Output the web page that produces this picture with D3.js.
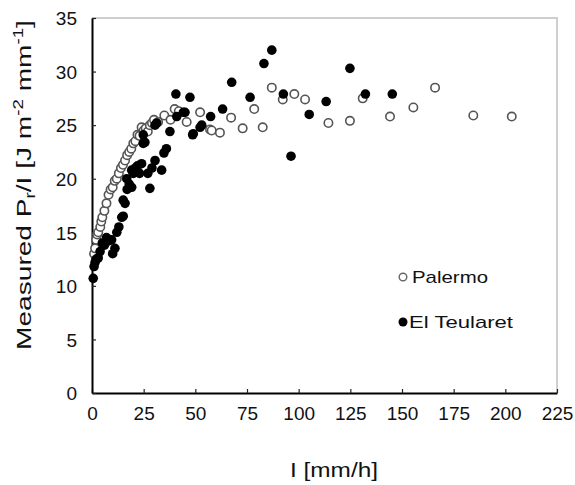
<!DOCTYPE html>
<html><head><meta charset="utf-8">
<script src="https://cdn.jsdelivr.net/npm/d3@7"></script>
<style>body{margin:0;background:#fff}svg{display:block}text{font-family:"Liberation Sans",Arial,sans-serif;fill:#111}</style>
</head><body>
<script>
const xTicks = [0,25,50,75,100,125,150,175,200,225];
const yTicks = [0,5,10,15,20,25,30,35];
const seriesNames = ["Palermo","El Teularet"];
// Palermo (open circles)
const palermoX = [1,1.5,2,2.5,3,4,4.5,5,6,7,8,9,10,11,12,13,14,15,16,17,18,19,20,21,22,23,24,25,26,27,28,29,30,32,35,38,40,42,45.8,52.3,57.1,57.9,61.9,67.3,72.9,78.5,82.6,87,92.3,97.9,103.1,114.4,124.8,131,144.2,155.5,166,184.5,203.1];
const palermoY = [13,13.5,14.3,14.8,15,15.5,16,16.4,17,17.7,18.5,19,19.2,19.8,20,20.5,21,21.3,21.7,22.2,22.5,22.8,23.3,23.5,24.1,24,24.8,24.5,24.7,24.4,25,25.2,25.5,25.3,25.9,25.5,26.5,26.3,25.3,26.2,24.6,24.5,24.3,25.7,24.7,26.5,24.8,28.5,27.4,27.9,27.4,25.2,25.4,27.5,25.8,26.65,28.5,25.9,25.8];
// El Teularet (filled circles)
const teularetX = [0.6,1,1.5,2,3,3.9,5,6,7,8,9.5,10,11.1,12,13,14.4,15.1,16,15.1,17,16.8,18,19.2,19.2,20,21,22,24,23,25.6,24.8,24.8,28,27,29,30.5,31.3,30.5,33.7,34.8,36,37.7,40.6,41,44.2,45,47.4,48.7,49,52.3,53.1,57.4,63.2,67.6,76.5,83.2,87,92.6,96.3,105.1,113.3,124.8,132.3,145.3];
const teularetY = [10.7,11.8,12.2,12.5,12.6,13.2,14,13.8,14.5,14.2,14.3,13,13.5,15,15.5,16.4,16.5,17.7,18,19,20,19.5,19.2,20.8,20.5,21,21.2,21.4,20.5,23.4,24.1,23.3,19.1,20.5,21,21.7,25.2,25,20.8,22.4,22.8,24.4,27.9,25.8,26.2,26.2,27.6,24.1,24.2,24.8,25,25.8,26.5,29,27.6,30.75,32,27.9,22.1,26,27.2,30.3,27.9,27.9];

const W=575,H=485;
const svg=d3.select("body").append("svg").attr("width",W).attr("height",H);
const x=d3.scaleLinear().domain([0,225]).range([92,557]);
const y=d3.scaleLinear().domain([0,35]).range([393,18]);

// light frame top/right
svg.append("path").attr("d",`M${x(0)},${y(35)}H${x(225)}V${y(0)}`).attr("fill","none").attr("stroke","#cfcfcf").attr("stroke-width",2);

// axes
const gx=svg.append("g").attr("transform",`translate(0,${y(0)})`)
  .call(d3.axisBottom(x).tickValues(xTicks).tickSizeInner(-4).tickSizeOuter(0).tickFormat(d3.format("d")));
const gy=svg.append("g").attr("transform",`translate(${x(0)},0)`)
  .call(d3.axisLeft(y).tickValues(yTicks).tickSizeInner(-4).tickSizeOuter(0).tickFormat(d3.format("d")));
[gx,gy].forEach(g=>{
  g.select(".domain").attr("stroke","#000").attr("stroke-width",2);
  g.selectAll(".tick line").attr("stroke","#222").attr("stroke-width",1.2);
  g.selectAll("text").attr("font-size",19).attr("fill","#111").style("font-family","'Liberation Sans',Arial,sans-serif");
});
gx.selectAll(".tick text").attr("y",14).attr("dy","0.71em");
gy.selectAll(".tick text").attr("x",-15).attr("dy","0.36em");

// points
svg.append("g").selectAll("circle").data(palermoX.map((v,i)=>[v,palermoY[i]])).join("circle")
  .attr("cx",d=>x(d[0])).attr("cy",d=>y(d[1])).attr("r",4.2)
  .attr("fill","#fff").attr("stroke","#555").attr("stroke-width",1.6);
svg.append("g").selectAll("circle").data(teularetX.map((v,i)=>[v,teularetY[i]])).join("circle")
  .attr("cx",d=>x(d[0])).attr("cy",d=>y(d[1])).attr("r",4.8)
  .attr("fill","#000");

// legend
svg.append("circle").attr("cx",403).attr("cy",277).attr("r",3.8).attr("fill","#fff").attr("stroke","#666").attr("stroke-width",1.4);
svg.append("circle").attr("cx",403).attr("cy",322).attr("r",4.5).attr("fill","#000");
function fitText(t,target){const w=t.node().getComputedTextLength();t.attr("textLength",target).attr("lengthAdjust","spacingAndGlyphs");}
fitText(svg.append("text").attr("x",412).attr("y",283).attr("font-size",17).text(seriesNames[0]),76);
fitText(svg.append("text").attr("x",409).attr("y",328).attr("font-size",17).text(seriesNames[1]),104);

// x title
fitText(svg.append("text").attr("x",290).attr("y",477).attr("font-size",21).text("I [mm/h]"),88);

// y title
const yt=svg.append("text").attr("font-size",21).attr("text-anchor","middle");
yt.append("tspan").text("Measured  P");
yt.append("tspan").attr("font-size",14).attr("dy",4).text("r");
yt.append("tspan").attr("dy",-4).text("/I [J m");
yt.append("tspan").attr("font-size",14).attr("dy",-8).text("-2");
yt.append("tspan").attr("dy",8).text(" mm");
yt.append("tspan").attr("font-size",14).attr("dy",-8).text("-1");
yt.append("tspan").attr("dy",8).text("]");
const len=yt.node().getComputedTextLength();
const sc=330/len;
yt.attr("transform",`translate(31,185) rotate(-90) scale(${sc},1)`);
</script>
</body></html>
